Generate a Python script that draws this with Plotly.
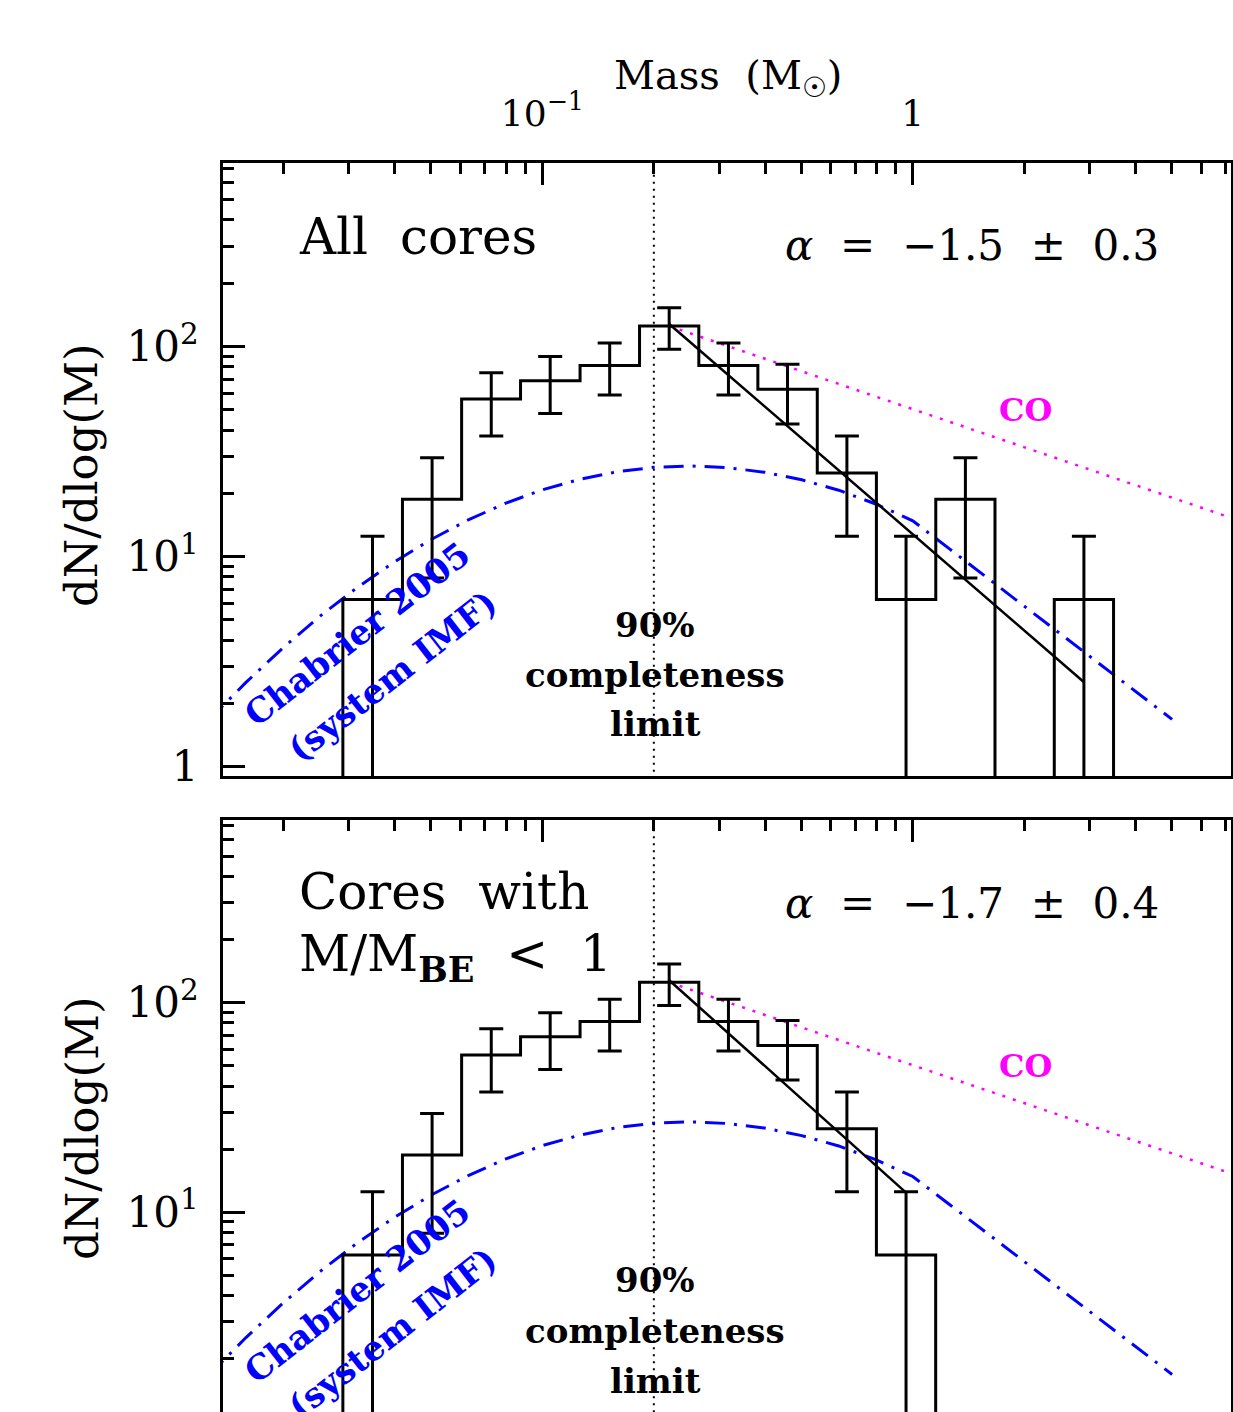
import plotly.graph_objects as go

# ---------------- data ----------------
BIN_CENTERS_MSUN = [0.0348, 0.0504, 0.0728, 0.105, 0.152, 0.220, 0.318,
                    0.459, 0.664, 0.959, 1.387, 2.004, 2.897]
BIN_WIDTH_DEX = 0.16

ALL_DNDLOGM = [6.25, 18.75, 56.25, 68.75, 81.25, 125.0, 81.25,
               62.5, 25.0, 6.25, 18.75, 0.0, 6.25]
ALL_ERR = [6.25, 10.83, 18.75, 20.73, 22.53, 27.95, 22.53,
           19.76, 12.5, 6.25, 10.83, 0.0, 6.25]

BE_DNDLOGM = [6.25, 18.75, 56.25, 68.75, 81.25, 125.0, 81.25,
              62.5, 25.0, 6.25]
BE_ERR = [6.25, 10.83, 18.75, 20.73, 22.53, 27.95, 22.53,
          19.76, 12.5, 6.25]

CHAB_MASS = [0.01259, 0.01585, 0.01995, 0.02512, 0.03162, 0.03981, 0.05012,
             0.0631, 0.07943, 0.1, 0.1259, 0.1585, 0.1995, 0.2512, 0.3162,
             0.3981, 0.5012, 0.631, 0.7943, 1.0, 1.259, 1.585, 1.995, 2.512,
             3.162, 3.981, 5.012]
CHAB_DNDLOGM = [1.67, 2.52, 3.68, 5.21, 7.12, 9.42, 12.07, 14.95, 17.92,
                20.78, 23.3, 25.3, 26.6, 27.0, 26.5, 25.2, 23.2, 20.7, 17.8,
                14.8, 10.85, 7.95, 5.83, 4.27, 3.13, 2.29, 1.68]

FIT_ALL_MASS = [0.220, 2.89]
FIT_ALL_DNDLOGM = [128.0, 2.54]
FIT_BE_MASS = [0.220, 0.959]
FIT_BE_DNDLOGM = [128.0, 12.4]
CO_MASS = [0.220, 7.23]
CO_DNDLOGM = [125.0, 15.3]
COMPLETENESS_MASS = 0.2

X_TICKVALS = [0.1, 1]
X_TICKTEXT = ["10<sup>\u22121</sup>", "1"]
Y_TICKVALS = [1, 10, 100]
Y_TICKTEXT = ["1", "10<sup>1</sup>", "10<sup>2</sup>"]

# ---------------- style / layout ----------------
FONT = "DejaVu Serif"
BLUE = "#0000FF"
MAGENTA = "#FF00FF"
W, H = 1233, 1412
ML, MR, MT, MB = 223, 2, 163, 0
PW, PH = W - ML - MR, H - MT - MB
NB = "\u00a0"
X_RANGE = [-1.862, 0.859]
Y1_RANGE = [-0.044, 2.873]
Y2_RANGE = [0.046, 2.872]


def step_outline(centers, values, floor=0.1):
    half = BIN_WIDTH_DEX / 2.0
    xs = [centers[0] * 10 ** (-half)]
    ys = [floor]
    for c, v in zip(centers, values):
        xs.append(c * 10 ** (-half))
        ys.append(v if v > 0 else floor)
    xs.append(centers[-1] * 10 ** half)
    ys.append(floor)
    return xs, ys


def panel_traces(values, errs, fit_m, fit_v, xa, ya):
    tr = []
    tr.append(go.Scatter(x=CHAB_MASS, y=CHAB_DNDLOGM, mode="lines",
                         line=dict(color=BLUE, width=3, dash="20px,9px,3px,9px"),
                         xaxis=xa, yaxis=ya, showlegend=False, hoverinfo="skip"))
    tr.append(go.Scatter(x=CO_MASS, y=CO_DNDLOGM, mode="lines",
                         line=dict(color=MAGENTA, width=2.5, dash="3px,8px"),
                         xaxis=xa, yaxis=ya, showlegend=False, hoverinfo="skip"))
    hx, hy = step_outline(BIN_CENTERS_MSUN[:len(values)], values)
    tr.append(go.Scatter(x=hx, y=hy, mode="lines", line_shape="hv",
                         line=dict(color="black", width=3),
                         xaxis=xa, yaxis=ya, showlegend=False, hoverinfo="skip"))
    ex = [c for c, v in zip(BIN_CENTERS_MSUN, values) if v > 0]
    ey = [v for v in values if v > 0]
    ee = [e for e, v in zip(errs, values) if v > 0]
    tr.append(go.Scatter(x=ex, y=ey, mode="markers",
                         marker=dict(size=1, color="rgba(0,0,0,0)"),
                         error_y=dict(type="data", array=ee, arrayminus=ee,
                                      color="black", thickness=3, width=12),
                         xaxis=xa, yaxis=ya, showlegend=False, hoverinfo="skip"))
    tr.append(go.Scatter(x=fit_m, y=fit_v, mode="lines",
                         line=dict(color="black", width=2.5),
                         xaxis=xa, yaxis=ya, showlegend=False, hoverinfo="skip"))
    tr.append(go.Scatter(x=[COMPLETENESS_MASS, COMPLETENESS_MASS], y=[0.3, 3000],
                         mode="lines", line=dict(color="black", width=2, dash="2px,5px"),
                         xaxis=xa, yaxis=ya, showlegend=False, hoverinfo="skip"))
    return tr


fig = go.Figure()
for t in panel_traces(ALL_DNDLOGM, ALL_ERR, FIT_ALL_MASS, FIT_ALL_DNDLOGM, "x", "y"):
    fig.add_trace(t)
for t in panel_traces(BE_DNDLOGM, BE_ERR, FIT_BE_MASS, FIT_BE_DNDLOGM, "x2", "y2"):
    fig.add_trace(t)

x_minor = [k * 10 ** p for p in (-2, -1, 0) for k in range(2, 10)]
y_minor = [k * 10 ** p for p in (-1, 0, 1, 2) for k in range(2, 10)]

tick_common = dict(type="log", tickmode="array", ticks="inside", ticklen=22,
                   tickwidth=3, tickcolor="black", showline=True, linewidth=3,
                   linecolor="black", showgrid=False, zeroline=False,
                   automargin=False)
x_common = dict(tick_common, range=X_RANGE, tickvals=X_TICKVALS, ticktext=X_TICKTEXT,
                minor=dict(ticks="inside", ticklen=11, tickwidth=3, tickcolor="black",
                           tickmode="array", tickvals=x_minor, showgrid=False),
                tickfont=dict(family=FONT, size=36, color="black"),
                ticklabelstandoff=20)
y_common = dict(tick_common, tickvals=Y_TICKVALS, ticktext=Y_TICKTEXT,
                minor=dict(ticks="inside", ticklen=11, tickwidth=3, tickcolor="black",
                           tickmode="array", tickvals=y_minor, showgrid=False),
                tickfont=dict(family=FONT, size=42, color="black"),
                ticklabelstandoff=13)

top_bottom = (H - 776) / PH
bot_top = (H - 820) / PH

fig.update_layout(
    width=W, height=H,
    margin=dict(l=ML, r=MR, t=MT, b=MB, pad=0, autoexpand=False),
    paper_bgcolor="white", plot_bgcolor="white",
    # top panel
    xaxis=dict(x_common, domain=[0, 1], anchor="y", side="top", mirror=True),
    yaxis=dict(y_common, domain=[top_bottom, 1], range=Y1_RANGE, anchor="x",
               side="left", mirror=True),
    # top panel: ticks along the bottom and right edges
    xaxis3=dict(x_common, domain=[0, 1], anchor="y", overlaying="x", side="bottom",
                showticklabels=False),
    yaxis3=dict(y_common, domain=[top_bottom, 1], range=Y1_RANGE, anchor="x",
                overlaying="y", side="right", showticklabels=False),
    # bottom panel
    xaxis2=dict(x_common, domain=[0, 1], anchor="y2", side="top", mirror=True,
                showticklabels=False),
    yaxis2=dict(y_common, domain=[0, bot_top], range=Y2_RANGE, anchor="x2",
                side="left", mirror=True),
    yaxis4=dict(y_common, domain=[0, bot_top], range=Y2_RANGE, anchor="x2",
                overlaying="y2", side="right", showticklabels=False),
)


def ann(text, xpix, ypix, size, color="black", angle=0, xanchor="center",
        yanchor="middle"):
    return dict(text=text, x=(xpix - ML) / PW, y=(H - ypix) / PH,
                xref="paper", yref="paper", showarrow=False,
                font=dict(family=FONT, size=size, color=color),
                textangle=angle, xanchor=xanchor, yanchor=yanchor)


def alpha_text(val, err):
    return ("<i>\u03b1</i>" + NB + NB + "=" + NB + NB + "\u2212" + val + NB + NB
            + "\u00b1" + NB + NB + err)


annotations = [
    ann("Mass" + NB + NB + "(M<sub>\u2609</sub>)", 728, 78, 40),
    ann("dN/dlog(M)", 82, 475, 45, angle=-90),
    ann("dN/dlog(M)", 82, 1128, 45, angle=-90),
    ann("All" + NB + NB + "cores", 297, 237, 50, xanchor="left"),
    ann(alpha_text("1.5", "0.3"), 783, 246, 42, xanchor="left"),
    ann("<b>CO</b>", 1025, 410, 32, color=MAGENTA),
    ann("<b>90%</b>", 655, 625, 34),
    ann("<b>completeness</b>", 655, 675, 34),
    ann("<b>limit</b>", 655, 724, 34),
    ann("<b>Chabrier 2005</b>", 357, 634, 34, color=BLUE, angle=-38),
    ann("<b>(system IMF)</b>", 392, 676, 34, color=BLUE, angle=-38),
    ann("Cores" + NB + NB + "with", 297, 892, 50, xanchor="left"),
    ann("M/M<sub><b>BE</b></sub>" + NB + NB + "&lt;" + NB + NB + "1", 297, 957, 50,
        xanchor="left"),
    ann(alpha_text("1.7", "0.4"), 783, 903, 42, xanchor="left"),
    ann("<b>CO</b>", 1025, 1066, 32, color=MAGENTA),
    ann("<b>90%</b>", 655, 1280, 34),
    ann("<b>completeness</b>", 655, 1331, 34),
    ann("<b>limit</b>", 655, 1381, 34),
    ann("<b>Chabrier 2005</b>", 357, 1291, 34, color=BLUE, angle=-38),
    ann("<b>(system IMF)</b>", 392, 1333, 34, color=BLUE, angle=-38),
]
fig.update_layout(annotations=annotations)

fig.write_html("out.html", config={"displayModeBar": False},
               post_script="document.body.style.margin='0px';")
